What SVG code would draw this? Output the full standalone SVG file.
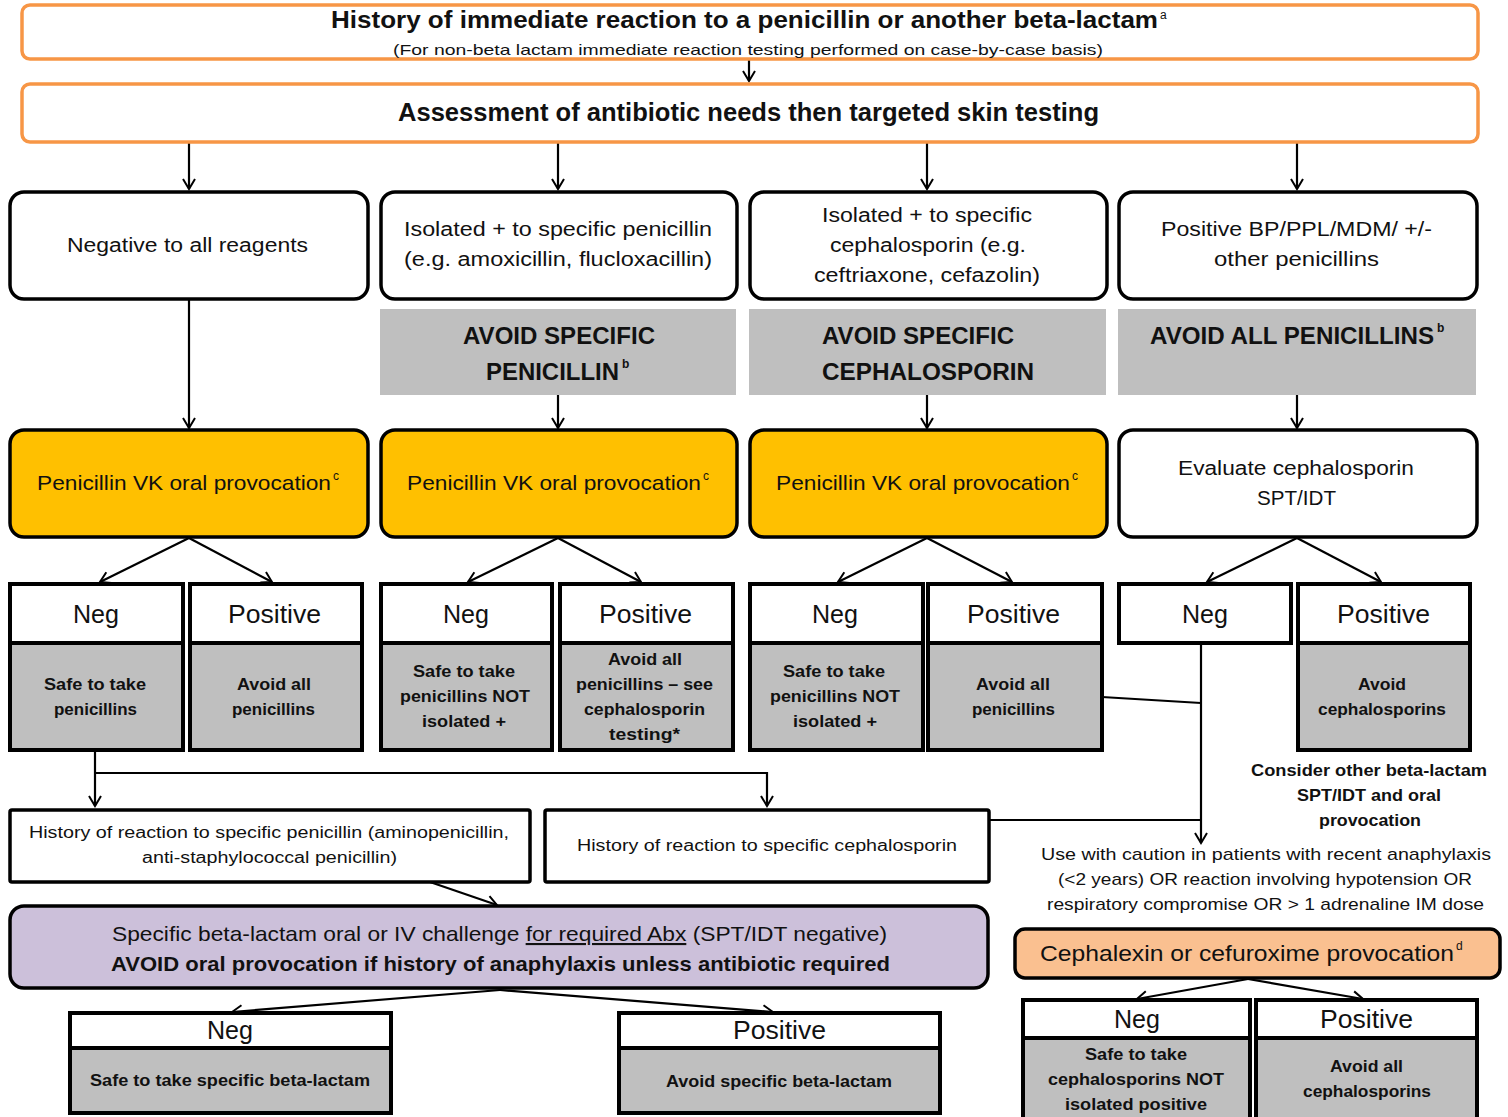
<svg xmlns="http://www.w3.org/2000/svg" width="1508" height="1117" viewBox="0 0 1508 1117">
<defs>
<marker id="ah" markerUnits="userSpaceOnUse" markerWidth="16" markerHeight="16" refX="12" refY="8" orient="auto">
<path d="M2,2 L12,8 L2,14" fill="none" stroke="#000" stroke-width="2"/>
</marker>
<style>
text{font-family:"Liberation Sans",Arial,sans-serif;fill:#111}
.b{font-weight:bold}
.orb{fill:#fff;stroke:#F79646;stroke-width:3.5}
.wb{fill:#fff;stroke:#000;stroke-width:3.5}
.yb{fill:#FFC000;stroke:#000;stroke-width:3.5}
.gb{fill:#BFBFBF;stroke:none}
.nw{fill:#fff;stroke:#000;stroke-width:4}
.ng{fill:#BFBFBF;stroke:#000;stroke-width:4}
.pb{fill:#CCC0DA;stroke:#000;stroke-width:3.5}
.cb{fill:#FAC090;stroke:#000;stroke-width:3.5}
.c line,.c path{stroke:#000;stroke-width:2.2;fill:none}
.a{marker-end:url(#ah)}
.t20{font-size:20px}
.t24{font-size:24px}
.t26{font-size:26px}
.t17{font-size:17px}
.t16{font-size:16px}
.sup{font-size:12px}
</style>
</defs>

<g id="connectors" class="c">
<line class="a" x1="749" y1="60" x2="749" y2="81"/>
<line class="a" x1="189" y1="142" x2="189" y2="189"/>
<line class="a" x1="558" y1="142" x2="558" y2="189"/>
<line class="a" x1="927" y1="142" x2="927" y2="189"/>
<line class="a" x1="1297" y1="142" x2="1297" y2="189"/>
<line class="a" x1="189" y1="299" x2="189" y2="428"/>
<line class="a" x1="558" y1="395" x2="558" y2="428"/>
<line class="a" x1="927" y1="395" x2="927" y2="428"/>
<line class="a" x1="1297" y1="395" x2="1297" y2="428"/>
<line class="a" x1="189" y1="538" x2="100" y2="582"/>
<line class="a" x1="189" y1="538" x2="272" y2="582"/>
<line class="a" x1="558" y1="538" x2="468" y2="582"/>
<line class="a" x1="558" y1="538" x2="641" y2="582"/>
<line class="a" x1="927" y1="538" x2="838" y2="582"/>
<line class="a" x1="927" y1="538" x2="1012" y2="582"/>
<line class="a" x1="1297" y1="538" x2="1207" y2="582"/>
<line class="a" x1="1297" y1="538" x2="1381" y2="582"/>
<line class="a" x1="95" y1="750" x2="95" y2="806"/>
<path class="a" d="M95,773 L767,773 L767,806"/>
<line x1="1102" y1="697" x2="1201" y2="703"/>
<line class="a" x1="1201" y1="643" x2="1201" y2="843"/>
<line x1="988" y1="820" x2="1201" y2="820"/>
<line class="a" x1="430" y1="882" x2="497" y2="905"/>
<line class="a" x1="500" y1="990" x2="232" y2="1012"/>
<line class="a" x1="500" y1="990" x2="773" y2="1012"/>
<line class="a" x1="1248" y1="979" x2="1137" y2="999"/>
<line class="a" x1="1248" y1="979" x2="1363" y2="999"/>
</g>

<g id="n-history">
<rect class="orb" x="22" y="5" width="1456" height="54" rx="8"/>
<text class="b" x="331" y="28" font-size="24"><tspan textLength="827" lengthAdjust="spacingAndGlyphs">History of immediate reaction to a penicillin or another beta-lactam</tspan><tspan class="sup" font-weight="normal" dx="2" dy="-9">a</tspan></text>
<text x="393" y="55" font-size="15" textLength="710" lengthAdjust="spacingAndGlyphs">(For non-beta lactam immediate reaction testing performed  on case-by-case basis)</text>
</g>

<g id="n-assessment">
<rect class="orb" x="22" y="84" width="1456" height="58" rx="8"/>
<text class="b" x="398" y="121" font-size="25" textLength="701" lengthAdjust="spacingAndGlyphs">Assessment of antibiotic needs then targeted skin testing</text>
</g>

<g id="n-negative-all">
<rect class="wb" x="10" y="192" width="358" height="107" rx="14"/>
<text class="t20" x="67" y="252" textLength="241" lengthAdjust="spacingAndGlyphs">Negative to all reagents</text>
</g>
<g id="n-isolated-pen">
<rect class="wb" x="381" y="192" width="356" height="107" rx="14"/>
<text class="t20" x="404" y="236" textLength="308" lengthAdjust="spacingAndGlyphs">Isolated + to specific penicillin</text>
<text class="t20" x="404" y="266" textLength="308" lengthAdjust="spacingAndGlyphs">(e.g. amoxicillin, flucloxacillin)</text>
</g>
<g id="n-isolated-ceph">
<rect class="wb" x="750" y="192" width="357" height="107" rx="14"/>
<text class="t20" x="822" y="222" textLength="210" lengthAdjust="spacingAndGlyphs">Isolated + to specific</text>
<text class="t20" x="830" y="252" textLength="196" lengthAdjust="spacingAndGlyphs">cephalosporin  (e.g.</text>
<text class="t20" x="814" y="282" textLength="226" lengthAdjust="spacingAndGlyphs">ceftriaxone, cefazolin)</text>
</g>
<g id="n-positive-bp">
<rect class="wb" x="1119" y="192" width="358" height="107" rx="14"/>
<text class="t20" x="1161" y="236" textLength="271" lengthAdjust="spacingAndGlyphs">Positive BP/PPL/MDM/ +/-</text>
<text class="t20" x="1214" y="266" textLength="165" lengthAdjust="spacingAndGlyphs">other penicillins</text>
</g>

<g id="n-avoid-pen">
<rect class="gb" x="380" y="309" width="356" height="86"/>
<text class="b t24" x="463" y="344" textLength="192" lengthAdjust="spacingAndGlyphs">AVOID SPECIFIC</text>
<text class="b t24" x="486" y="380"><tspan textLength="133" lengthAdjust="spacingAndGlyphs">PENICILLIN</tspan><tspan class="sup" dx="3" dy="-12">b</tspan></text>
</g>
<g id="n-avoid-ceph">
<rect class="gb" x="749" y="309" width="357" height="86"/>
<text class="b t24" x="822" y="344" textLength="192" lengthAdjust="spacingAndGlyphs">AVOID SPECIFIC</text>
<text class="b t24" x="822" y="380" textLength="212" lengthAdjust="spacingAndGlyphs">CEPHALOSPORIN</text>
</g>
<g id="n-avoid-all">
<rect class="gb" x="1118" y="309" width="358" height="86"/>
<text class="b t24" x="1150" y="344"><tspan textLength="284" lengthAdjust="spacingAndGlyphs">AVOID ALL PENICILLINS</tspan><tspan class="sup" dx="3" dy="-12">b</tspan></text>
</g>

<g id="n-pvk1">
<rect class="yb" x="10" y="430" width="358" height="107" rx="14"/>
<text x="37" y="490" font-size="21"><tspan textLength="294" lengthAdjust="spacingAndGlyphs">Penicillin VK oral provocation</tspan><tspan class="sup" dx="2" dy="-10">c</tspan></text>
</g>
<g id="n-pvk2">
<rect class="yb" x="381" y="430" width="356" height="107" rx="14"/>
<text x="407" y="490" font-size="21"><tspan textLength="294" lengthAdjust="spacingAndGlyphs">Penicillin VK oral provocation</tspan><tspan class="sup" dx="2" dy="-10">c</tspan></text>
</g>
<g id="n-pvk3">
<rect class="yb" x="750" y="430" width="357" height="107" rx="14"/>
<text x="776" y="490" font-size="21"><tspan textLength="294" lengthAdjust="spacingAndGlyphs">Penicillin VK oral provocation</tspan><tspan class="sup" dx="2" dy="-10">c</tspan></text>
</g>
<g id="n-evaluate">
<rect class="wb" x="1119" y="430" width="358" height="107" rx="14"/>
<text class="t20" x="1178" y="475" textLength="236" lengthAdjust="spacingAndGlyphs">Evaluate cephalosporin</text>
<text class="t20" x="1257" y="505" textLength="79" lengthAdjust="spacingAndGlyphs">SPT/IDT</text>
</g>

<g id="n-c1-neg">
<rect class="nw" x="10" y="584" width="173" height="59"/>
<rect class="ng" x="10" y="643" width="173" height="107"/>
<text class="t26" x="73" y="623" textLength="46" lengthAdjust="spacingAndGlyphs">Neg</text>
<text class="b t17" x="44" y="690" textLength="102" lengthAdjust="spacingAndGlyphs">Safe to take</text>
<text class="b t17" x="54" y="715" textLength="83" lengthAdjust="spacingAndGlyphs">penicillins</text>
</g>
<g id="n-c1-pos">
<rect class="nw" x="190" y="584" width="172" height="59"/>
<rect class="ng" x="190" y="643" width="172" height="107"/>
<text class="t26" x="228" y="623" textLength="93" lengthAdjust="spacingAndGlyphs">Positive</text>
<text class="b t17" x="237" y="690" textLength="74" lengthAdjust="spacingAndGlyphs">Avoid all</text>
<text class="b t17" x="232" y="715" textLength="83" lengthAdjust="spacingAndGlyphs">penicillins</text>
</g>
<g id="n-c2-neg">
<rect class="nw" x="381" y="584" width="171" height="59"/>
<rect class="ng" x="381" y="643" width="171" height="107"/>
<text class="t26" x="443" y="623" textLength="46" lengthAdjust="spacingAndGlyphs">Neg</text>
<text class="b t17" x="413" y="677" textLength="102" lengthAdjust="spacingAndGlyphs">Safe to take</text>
<text class="b t17" x="400" y="702" textLength="130" lengthAdjust="spacingAndGlyphs">penicillins  NOT</text>
<text class="b t17" x="422" y="727" textLength="84" lengthAdjust="spacingAndGlyphs">isolated +</text>
</g>
<g id="n-c2-pos">
<rect class="nw" x="560" y="584" width="173" height="59"/>
<rect class="ng" x="560" y="643" width="173" height="107"/>
<text class="t26" x="599" y="623" textLength="93" lengthAdjust="spacingAndGlyphs">Positive</text>
<text class="b t17" x="608" y="665" textLength="74" lengthAdjust="spacingAndGlyphs">Avoid all</text>
<text class="b t17" x="576" y="690" textLength="137" lengthAdjust="spacingAndGlyphs">penicillins – see</text>
<text class="b t17" x="584" y="715" textLength="121" lengthAdjust="spacingAndGlyphs">cephalosporin</text>
<text class="b t17" x="609" y="740" textLength="71" lengthAdjust="spacingAndGlyphs">testing*</text>
</g>
<g id="n-c3-neg">
<rect class="nw" x="750" y="584" width="173" height="59"/>
<rect class="ng" x="750" y="643" width="173" height="107"/>
<text class="t26" x="812" y="623" textLength="46" lengthAdjust="spacingAndGlyphs">Neg</text>
<text class="b t17" x="783" y="677" textLength="102" lengthAdjust="spacingAndGlyphs">Safe to take</text>
<text class="b t17" x="770" y="702" textLength="130" lengthAdjust="spacingAndGlyphs">penicillins  NOT</text>
<text class="b t17" x="793" y="727" textLength="84" lengthAdjust="spacingAndGlyphs">isolated +</text>
</g>
<g id="n-c3-pos">
<rect class="nw" x="928" y="584" width="174" height="59"/>
<rect class="ng" x="928" y="643" width="174" height="107"/>
<text class="t26" x="967" y="623" textLength="93" lengthAdjust="spacingAndGlyphs">Positive</text>
<text class="b t17" x="976" y="690" textLength="74" lengthAdjust="spacingAndGlyphs">Avoid all</text>
<text class="b t17" x="972" y="715" textLength="83" lengthAdjust="spacingAndGlyphs">penicillins</text>
</g>
<g id="n-c4-neg">
<rect class="nw" x="1119" y="584" width="172" height="59"/>
<text class="t26" x="1182" y="623" textLength="46" lengthAdjust="spacingAndGlyphs">Neg</text>
</g>
<g id="n-c4-pos">
<rect class="nw" x="1298" y="584" width="172" height="59"/>
<rect class="ng" x="1298" y="643" width="172" height="107"/>
<text class="t26" x="1337" y="623" textLength="93" lengthAdjust="spacingAndGlyphs">Positive</text>
<text class="b t17" x="1358" y="690" textLength="48" lengthAdjust="spacingAndGlyphs">Avoid</text>
<text class="b t17" x="1318" y="715" textLength="128" lengthAdjust="spacingAndGlyphs">cephalosporins</text>
</g>

<g id="n-consider">
<text class="b t17" x="1251" y="776" textLength="236" lengthAdjust="spacingAndGlyphs">Consider other beta-lactam</text>
<text class="b t17" x="1297" y="801" textLength="144" lengthAdjust="spacingAndGlyphs">SPT/IDT  and oral</text>
<text class="b t17" x="1319" y="826" textLength="102" lengthAdjust="spacingAndGlyphs">provocation</text>
</g>

<g id="n-caution">
<text class="t17" x="1041" y="860" textLength="450" lengthAdjust="spacingAndGlyphs">Use with caution in patients with recent anaphylaxis</text>
<text class="t17" x="1058" y="885" textLength="414" lengthAdjust="spacingAndGlyphs">(&lt;2 years) OR reaction involving hypotension OR</text>
<text class="t17" x="1047" y="910" textLength="437" lengthAdjust="spacingAndGlyphs">respiratory compromise OR &gt; 1 adrenaline IM dose</text>
</g>

<g id="n-hist-pen">
<rect class="wb" x="10" y="810" width="520" height="72" rx="2"/>
<text class="t16" x="29" y="838" textLength="480" lengthAdjust="spacingAndGlyphs">History of reaction to specific penicillin (aminopenicillin,</text>
<text class="t16" x="142" y="863" textLength="255" lengthAdjust="spacingAndGlyphs">anti-staphylococcal penicillin)</text>
</g>
<g id="n-hist-ceph">
<rect class="wb" x="545" y="810" width="444" height="72" rx="2"/>
<text class="t16" x="577" y="851" textLength="380" lengthAdjust="spacingAndGlyphs">History of reaction to specific cephalosporin</text>
</g>

<g id="n-challenge">
<rect class="pb" x="10" y="906" width="978" height="82" rx="14"/>
<text x="112" y="941" font-size="21" textLength="775" lengthAdjust="spacingAndGlyphs">Specific beta-lactam oral or IV challenge <tspan text-decoration="underline">for required  Abx</tspan> (SPT/IDT negative)</text>
<text class="b" x="111" y="971" font-size="21" textLength="779" lengthAdjust="spacingAndGlyphs">AVOID oral provocation if history of anaphylaxis unless antibiotic required</text>
</g>

<g id="n-bl-neg">
<rect class="nw" x="70" y="1013" width="321" height="35"/>
<rect class="ng" x="70" y="1048" width="321" height="65"/>
<text class="t26" x="207" y="1039" textLength="46" lengthAdjust="spacingAndGlyphs">Neg</text>
<text class="b t17" x="90" y="1086" textLength="280" lengthAdjust="spacingAndGlyphs">Safe to take specific beta-lactam</text>
</g>
<g id="n-bl-pos">
<rect class="nw" x="619" y="1013" width="321" height="35"/>
<rect class="ng" x="619" y="1048" width="321" height="65"/>
<text class="t26" x="733" y="1039" textLength="93" lengthAdjust="spacingAndGlyphs">Positive</text>
<text class="b t17" x="666" y="1087" textLength="226" lengthAdjust="spacingAndGlyphs">Avoid specific beta-lactam</text>
</g>

<g id="n-cephalexin">
<rect class="cb" x="1015" y="929" width="485" height="49" rx="10"/>
<text x="1040" y="961" font-size="22"><tspan textLength="414" lengthAdjust="spacingAndGlyphs">Cephalexin  or cefuroxime  provocation</tspan><tspan class="sup" dx="2" dy="-11">d</tspan></text>
</g>
<g id="n-br-neg">
<rect class="nw" x="1023" y="1000" width="227" height="38"/>
<rect class="ng" x="1023" y="1038" width="227" height="85"/>
<text class="t26" x="1114" y="1028" textLength="46" lengthAdjust="spacingAndGlyphs">Neg</text>
<text class="b t17" x="1085" y="1060" textLength="102" lengthAdjust="spacingAndGlyphs">Safe to take</text>
<text class="b t17" x="1048" y="1085" textLength="176" lengthAdjust="spacingAndGlyphs">cephalosporins  NOT</text>
<text class="b t17" x="1065" y="1110" textLength="142" lengthAdjust="spacingAndGlyphs">isolated positive</text>
</g>
<g id="n-br-pos">
<rect class="nw" x="1256" y="1000" width="221" height="38"/>
<rect class="ng" x="1256" y="1038" width="221" height="85"/>
<text class="t26" x="1320" y="1028" textLength="93" lengthAdjust="spacingAndGlyphs">Positive</text>
<text class="b t17" x="1330" y="1072" textLength="73" lengthAdjust="spacingAndGlyphs">Avoid all</text>
<text class="b t17" x="1303" y="1097" textLength="128" lengthAdjust="spacingAndGlyphs">cephalosporins</text>
</g>
</svg>
